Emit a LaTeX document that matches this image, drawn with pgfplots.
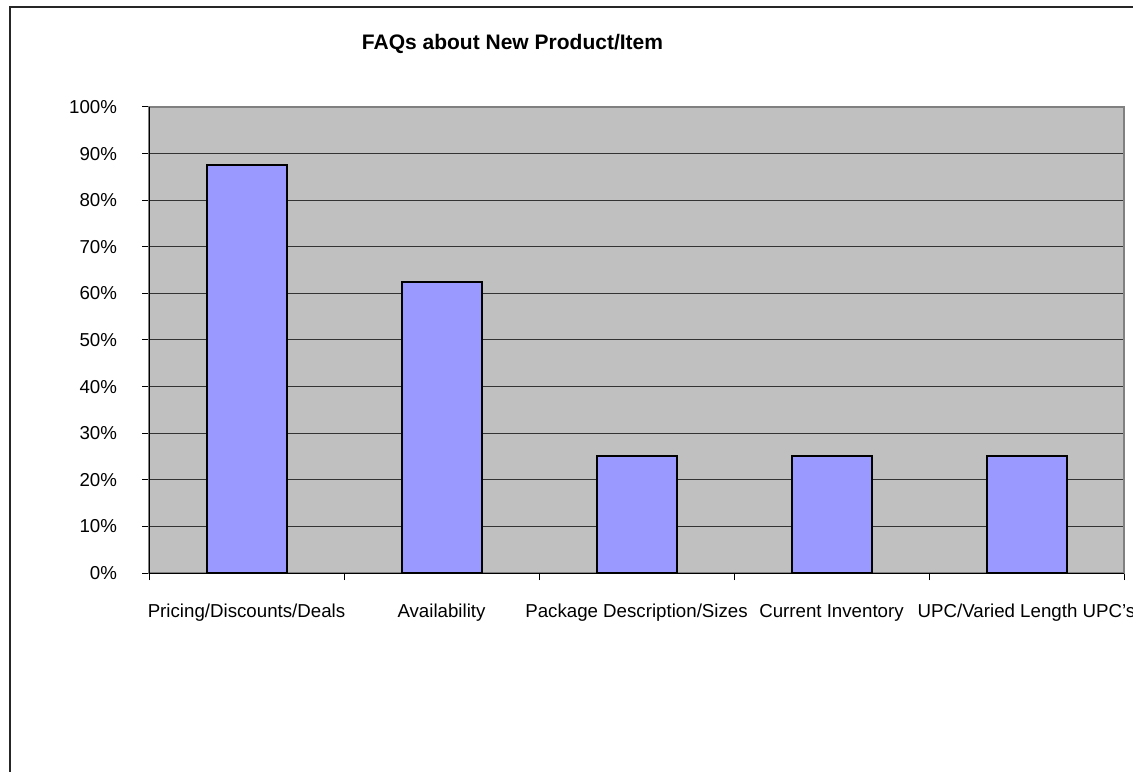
\documentclass[border=0pt]{standalone}
\usepackage{fontspec}
\setmainfont{Liberation Sans}
\usepackage{pgfplots}
\pgfplotsset{compat=1.18}
\definecolor{plotbg}{HTML}{C0C0C0}
\definecolor{barfill}{HTML}{9999FF}
\definecolor{framegray}{HTML}{808080}
\begin{document}
\begin{tikzpicture}
\path[use as bounding box] (0,0) rectangle (566.5pt,385.5pt);
\draw[line width=1pt,black!85] (5pt,-5pt) -- (5pt,382pt) -- (575pt,382pt);
\node[font=\fontsize{10.5}{12}\selectfont\bfseries,anchor=center] at (256.25pt,363.5pt) {FAQs about New Product/Item};
\begin{axis}[
  at={(74.5pt,99pt)}, anchor=south west,
  width=487.5pt, height=233pt, scale only axis,
  xmin=-0.5, xmax=4.5, ymin=0, ymax=100,
  axis background/.style={fill=plotbg},
  axis line style={framegray,line width=0.8pt},
  ytick={0,10,...,100},
  yticklabel={\pgfmathprintnumber{\tick}\%},
  /pgf/number format/assume math mode=true,
  ymajorgrids,
  major grid style={black!80,line width=0.5pt},
  xtick={-0.5,0.5,1.5,2.5,3.5,4.5},
  xticklabels={},
  extra x ticks={0,1,2,3,4},
  extra x tick labels={Pricing/Discounts/Deals,Availability,Package Description/Sizes,Current Inventory,UPC/Varied Length UPC's},
  extra x tick style={grid=none, major tick length=0pt, tick style={draw=none}},
  tick align=outside,
  major tick length=3.5pt,
  tick style={black,line width=0.5pt},
  ticklabel style={font=\fontsize{9.35}{11}\selectfont},
  xticklabel style={anchor=base,yshift=-22pt},
  yticklabel style={anchor=east,xshift=-9pt},
  tick pos=left,
  ybar, bar width=40pt,
  clip=false,
]
\addplot[fill=barfill, draw=black, line width=1pt] coordinates {(0,87.5) (1,62.5) (2,25) (3,25) (4,25)};
\draw[black,line width=0.5pt] (rel axis cs:0,1) -- (rel axis cs:0,0) -- (rel axis cs:1,0);
\end{axis}
\end{tikzpicture}
\end{document}
